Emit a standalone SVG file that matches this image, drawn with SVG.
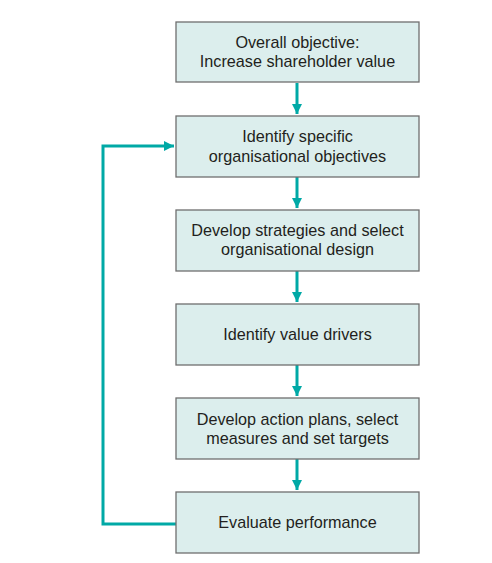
<svg xmlns="http://www.w3.org/2000/svg" width="492" height="563" viewBox="0 0 492 563">
<defs>
<style>
.box{fill:#dceeed;stroke:#6f6f6f;stroke-width:1.3}
.t{font-family:"Liberation Sans",Arial,sans-serif;font-size:16.2px;fill:#231f20;text-anchor:middle}
.c{fill:none;stroke:#00a9a6;stroke-width:3}
</style>
<marker id="ah" viewBox="0 0 10 10" refX="10" refY="5" markerWidth="3.6" markerHeight="3.4" orient="auto" markerUnits="strokeWidth">
<path d="M0,0 L10,5 L0,10 Z" fill="#00a9a6"/>
</marker>
</defs>
<rect width="492" height="563" fill="#fff"/>
<g id="connectors">
<path class="c" d="M297,83 V114" marker-end="url(#ah)"/>
<path class="c" d="M297,177 V208" marker-end="url(#ah)"/>
<path class="c" d="M297,271 V302" marker-end="url(#ah)"/>
<path class="c" d="M297,365 V396" marker-end="url(#ah)"/>
<path class="c" d="M297,459 V490" marker-end="url(#ah)"/>
<path class="c" d="M176,524 H103 V146 H174" marker-end="url(#ah)"/>
</g>
<g id="n1"><rect class="box" x="176" y="22" width="243" height="60"/>
<text class="t" x="297.5" y="48">Overall objective:</text><text class="t" x="297.5" y="67">Increase shareholder value</text></g>
<g id="n2"><rect class="box" x="176" y="116" width="243" height="61"/>
<text class="t" x="297.5" y="142">Identify specific</text><text class="t" x="297.5" y="162">organisational objectives</text></g>
<g id="n3"><rect class="box" x="176" y="210" width="243" height="61"/>
<text class="t" x="297.5" y="236">Develop strategies and select</text><text class="t" x="297.5" y="255">organisational design</text></g>
<g id="n4"><rect class="box" x="176" y="304" width="243" height="61"/>
<text class="t" x="297.5" y="340">Identify value drivers</text></g>
<g id="n5"><rect class="box" x="176" y="398" width="243" height="61"/>
<text class="t" x="297.5" y="425">Develop action plans, select</text><text class="t" x="297.5" y="444">measures and set targets</text></g>
<g id="n6"><rect class="box" x="176" y="492" width="243" height="61"/>
<text class="t" x="297.5" y="528">Evaluate performance</text></g>
</svg>
